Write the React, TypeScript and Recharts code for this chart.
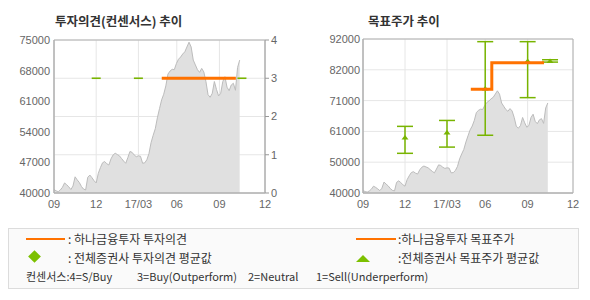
import {
  ComposedChart,
  Area,
  Scatter,
  ErrorBar,
  XAxis,
  YAxis,
  CartesianGrid,
  ReferenceArea,
} from "recharts";

// x axis is in months since 2016/09 (the chart's own time scale)
const xTicks = [0, 3, 6, 8.73, 11.76, 15];
const xTickLabels = ["09", "12", "17/03", "06", "09", "12"];

// share price, one value every 0.15 month
const priceStep = 0.15;
const prices = [
  40800, 40500, 40300, 40700, 41300, 42300, 41900, 41400, 40800, 41600,
  43700, 43000, 42400, 41500, 40900, 40700, 43600, 44100, 43500, 42800,
  42300, 44500, 45800, 46900, 47200, 46700, 46400, 47800, 48700, 49100,
  48800, 48500, 47900, 47300, 46800, 48100, 49500, 49300, 48700, 48300,
  48500, 48400, 46800, 46900, 47600, 49000, 51500, 53200, 54700, 57200,
  59300, 61300, 62600, 64500, 67200, 67900, 68300, 68200, 69600, 70600,
  71100, 71800, 72300, 73400, 74500, 73400, 70400, 69300, 68200, 67600,
  68500, 67700, 65500, 62500, 61900, 62800, 65500, 63700, 62200, 62800,
  65500, 66600, 64200, 63400, 64700, 65100, 63500, 68700, 70400,
];

// 하나금융투자 opinion (3 = Buy)
const hanaOpinionT = [7.66, 12.93];
const hanaOpinion = [3, 3];

// 하나금융투자 target price (changes)
const hanaTargetT = [7.7, 9.2, 12.93];
const hanaTarget = [75000, 84000, 84000];

// 전체증권사 consensus
const consT = [3, 6, 8.73, 11.76, 13.36];
const consOpinion = [3, 3, 3, 3, 3];
const consTargetAvg = [58700, 60400, 75300, 84600, 84600];
const consTargetLow = [53400, 55500, 59500, 72200, 84200];
const consTargetHigh = [62500, 64500, 91100, 91100, 85000];

const priceTicks = [40000, 47000, 54000, 61000, 68000, 75000];
const opinionTicks = [0, 1, 2, 3, 4];
const targetTicks = [40000, 50400, 60800, 71200, 81600, 92000];

const ORANGE = "#ff7200";
const GREEN = "#78b400";
const tickStyle = { fontSize: 11, fill: "#666", fontFamily: "Liberation Sans, Arial, sans-serif" };

const priceData = prices.map((p, i) => ({ t: i * priceStep, price: p }));
const hanaOpinionData = hanaOpinionT.map((t, i) => ({ t, v: hanaOpinion[i] }));
const hanaTargetData: { t: number; v: number }[] = [];
hanaTargetT.forEach((t, i) => {
  if (i > 0 && hanaTarget[i] !== hanaTarget[i - 1]) hanaTargetData.push({ t, v: hanaTarget[i - 1] });
  hanaTargetData.push({ t, v: hanaTarget[i] });
});
const consOpinionData = consT.map((t, i) => ({ t, v: consOpinion[i] }));
const consTargetData = consT.map((t, i) => ({
  t,
  v: consTargetAvg[i],
  err: [consTargetAvg[i] - consTargetLow[i], consTargetHigh[i] - consTargetAvg[i]],
}));

const fmtX = (v: number) => {
  const i = xTicks.indexOf(v);
  return i >= 0 ? xTickLabels[i] : "";
};

const FlatMark = (props: any) => {
  const { cx, cy } = props;
  return <line x1={cx - 4.5} x2={cx + 4.5} y1={cy} y2={cy} stroke={GREEN} strokeWidth={1.6} />;
};

const Tri = (props: any) => {
  const { cx, cy } = props;
  return <polygon points={`${cx - 3.5},${cy + 2} ${cx + 3.5},${cy + 2} ${cx},${cy - 2.5}`} fill={GREEN} />;
};

const NoDot = () => <g />;

const titleStyle: React.CSSProperties = {
  position: "absolute",
  top: 12,
  fontFamily: "Noto Sans CJK KR, sans-serif",
  fontWeight: 700,
  fontSize: 12.5,
  color: "#333",
  lineHeight: "18px",
  whiteSpace: "nowrap",
};

const legendText: React.CSSProperties = {
  position: "absolute",
  fontFamily: "Noto Sans CJK KR, sans-serif",
  fontSize: 12,
  color: "#333",
  lineHeight: "16px",
  whiteSpace: "nowrap",
};

const noteText: React.CSSProperties = { ...legendText, fontSize: 11 };

function OpinionChart() {
  return (
    <ComposedChart width={295} height={220} margin={{ top: 40, right: 0, bottom: 0, left: 0 }}>
      <CartesianGrid yAxisId="right" stroke="#e6e6e6" />
      <XAxis
        dataKey="t"
        type="number"
        domain={[0, 15]}
        ticks={xTicks}
        tickFormatter={fmtX}
        tick={tickStyle}
        tickLine={false}
        axisLine={{ stroke: "#b0b0b0" }}
        tickSize={5}
        tickMargin={2}
        height={27}
        allowDataOverflow
      />
      <YAxis
        yAxisId="left"
        domain={[40000, 75000]}
        ticks={priceTicks}
        tick={tickStyle}
        tickLine={false}
        axisLine={{ stroke: "#b0b0b0" }}
        tickSize={4}
        tickMargin={0}
        width={54}
        interval={0}
      />
      <YAxis
        yAxisId="right"
        orientation="right"
        domain={[0, 4]}
        ticks={opinionTicks}
        tick={tickStyle}
        tickLine={{ stroke: "#999" }}
        axisLine={{ stroke: "#b0b0b0" }}
        tickSize={4}
        tickMargin={2}
        width={30}
        interval={0}
      />
      <Area
        yAxisId="left"
        data={priceData}
        dataKey="price"
        type="linear"
        stroke="#bcbcbc"
        strokeWidth={1}
        fill="#e0e0e0"
        fillOpacity={1}
        isAnimationActive={false}
      />
      <Scatter yAxisId="right" data={consOpinionData} dataKey="v" shape={FlatMark} isAnimationActive={false} />
      <Scatter
        yAxisId="right"
        data={hanaOpinionData}
        dataKey="v"
        line={{ stroke: ORANGE, strokeWidth: 3 }}
        lineType="joint"
        shape={NoDot}
        isAnimationActive={false}
      />
      <ReferenceArea yAxisId="right" x1={0} x2={15} y1={0} y2={4} fill="none" stroke="#b0b0b0" />
    </ComposedChart>
  );
}

function TargetChart() {
  return (
    <ComposedChart width={295} height={220} margin={{ top: 39, right: 17, bottom: 0, left: 0 }}>
      <CartesianGrid stroke="#e6e6e6" />
      <XAxis
        dataKey="t"
        type="number"
        domain={[0, 15]}
        ticks={xTicks}
        tickFormatter={fmtX}
        tick={tickStyle}
        tickLine={false}
        axisLine={{ stroke: "#b0b0b0" }}
        tickSize={5}
        tickMargin={2}
        height={27}
        allowDataOverflow
      />
      <YAxis
        domain={[40000, 92000]}
        ticks={targetTicks}
        tickFormatter={(v: number) => String(Math.round(v / 1000) * 1000)}
        tick={tickStyle}
        tickLine={false}
        axisLine={{ stroke: "#b0b0b0" }}
        tickSize={3}
        tickMargin={0}
        width={68}
        interval={0}
      />
      <Area
        data={priceData}
        dataKey="price"
        type="linear"
        stroke="#bcbcbc"
        strokeWidth={1}
        fill="#e0e0e0"
        fillOpacity={1}
        isAnimationActive={false}
      />
      <Scatter data={consTargetData} dataKey="v" shape={Tri} isAnimationActive={false}>
        <ErrorBar dataKey="err" direction="y" width={8} stroke={GREEN} strokeWidth={1.5} isAnimationActive={false} />
      </Scatter>
      <Scatter
        data={hanaTargetData}
        dataKey="v"
        line={{ stroke: ORANGE, strokeWidth: 3 }}
        lineType="joint"
        shape={NoDot}
        isAnimationActive={false}
      />
      <ReferenceArea x1={0} x2={15} y1={40000} y2={92000} fill="none" stroke="#b0b0b0" />
    </ComposedChart>
  );
}

export default function App() {
  return (
    <div style={{ position: "absolute", left: 0, top: 0, width: 590, height: 300, background: "#fff" }}>
      <div style={{ ...titleStyle, left: 55 }}>투자의견(컨센서스) 추이</div>
      <div style={{ ...titleStyle, left: 368 }}>목표주가 추이</div>
      <div style={{ position: "absolute", left: 0, top: 0 }}>
        <OpinionChart />
      </div>
      <div style={{ position: "absolute", left: 295, top: 0 }}>
        <TargetChart />
      </div>
      <div
        style={{
          position: "absolute",
          left: 8,
          top: 228,
          width: 569,
          height: 59,
          border: "1px solid #dcdcdc",
          background: "#fafafa",
        }}
      />
      <div style={{ position: "absolute", left: 26, top: 238, width: 39, height: 2, background: ORANGE }} />
      <div style={{ ...legendText, left: 68, top: 231 }}>: 하나금융투자 투자의견</div>
      <div
        style={{
          position: "absolute",
          left: 30,
          top: 252,
          width: 9,
          height: 9,
          background: "#7cc000",
          transform: "rotate(45deg)",
        }}
      />
      <div style={{ ...legendText, left: 68, top: 250 }}>: 전체증권사 투자의견 평균값</div>
      <div style={{ position: "absolute", left: 356, top: 238, width: 40, height: 2, background: ORANGE }} />
      <div style={{ ...legendText, left: 398, top: 231 }}>:하나금융투자 목표주가</div>
      <div
        style={{
          position: "absolute",
          left: 356,
          top: 255,
          width: 0,
          height: 0,
          borderLeft: "7px solid transparent",
          borderRight: "7px solid transparent",
          borderBottom: "7px solid #7cc000",
        }}
      />
      <div style={{ ...legendText, left: 398, top: 250 }}>:전체증권사 목표주가 평균값</div>
      <div style={{ ...noteText, left: 26, top: 268 }}>컨센서스:4=S/Buy</div>
      <div style={{ ...noteText, left: 137, top: 268 }}>3=Buy(Outperform)</div>
      <div style={{ ...noteText, left: 248, top: 268 }}>2=Neutral</div>
      <div style={{ ...noteText, left: 316, top: 268 }}>1=Sell(Underperform)</div>
    </div>
  );
}
